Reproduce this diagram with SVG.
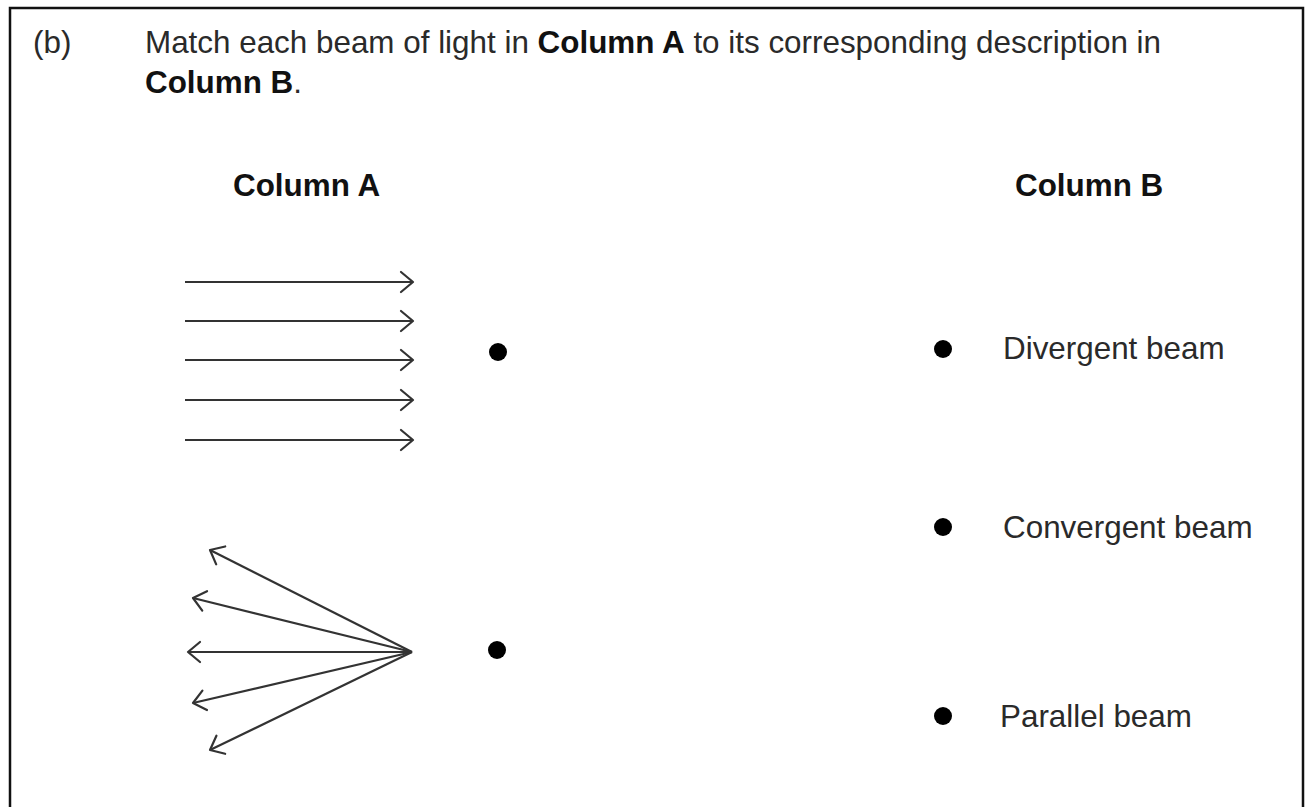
<svg xmlns="http://www.w3.org/2000/svg" width="1309" height="807" viewBox="0 0 1309 807">
  <defs>
    <marker id="chev" markerUnits="userSpaceOnUse" markerWidth="30" markerHeight="30" refX="0" refY="0" orient="auto" overflow="visible" viewBox="-15 -15 30 30">
      <path d="M-12,-10 L0,0 L-12,10" fill="none" stroke="#333" stroke-width="2.2" stroke-linecap="round" stroke-linejoin="round"/>
    </marker>
  </defs>
  <style>
    .t { font-family: "Liberation Sans", Arial, sans-serif; font-size: 31.4px; fill: #2a2a2a; }
    .b { font-weight: bold; fill: #111; }
    .ray { stroke: #333; stroke-width: 2.2; fill: none; marker-end: url(#chev); }
    .dot { fill: #000; }
  </style>
  <rect x="0" y="0" width="1309" height="807" fill="#fff"/>
  <path d="M10,830 L10,8 L1303,8 L1303,830" fill="none" stroke="#111" stroke-width="2.5"/>

  <g id="question">
    <text class="t" x="33" y="53">(b)</text>
    <text class="t" x="145" y="53">Match each beam of light in <tspan class="b">Column A</tspan> to its corresponding description in</text>
    <text class="t" x="145" y="93"><tspan class="b">Column B</tspan>.</text>
  </g>

  <g id="colA-title"><text class="t b" x="233" y="196">Column A</text></g>
  <g id="colB-title"><text class="t b" x="1015" y="196">Column B</text></g>

  <g id="connectors">
    <g id="parallel-rays">
      <line class="ray" x1="185" y1="282" x2="413" y2="282"/>
      <line class="ray" x1="185" y1="321" x2="413" y2="321"/>
      <line class="ray" x1="185" y1="360" x2="413" y2="360"/>
      <line class="ray" x1="185" y1="400" x2="413" y2="400"/>
      <line class="ray" x1="185" y1="440" x2="413" y2="440"/>
    </g>
    <g id="divergent-rays">
      <line class="ray" x1="412" y1="652" x2="210" y2="550"/>
      <line class="ray" x1="412" y1="652" x2="193" y2="598"/>
      <line class="ray" x1="412" y1="652" x2="188" y2="652"/>
      <line class="ray" x1="412" y1="652" x2="193" y2="703"/>
      <line class="ray" x1="412" y1="652" x2="210" y2="750"/>
    </g>
  </g>

  <g id="dotA1"><circle class="dot" cx="498" cy="352" r="9"/></g>
  <g id="dotA2"><circle class="dot" cx="497" cy="650" r="9"/></g>

  <g id="divergent"><circle class="dot" cx="943" cy="349" r="9"/><text class="t" x="1003" y="359">Divergent beam</text></g>
  <g id="convergent"><circle class="dot" cx="943" cy="527" r="9"/><text class="t" x="1003" y="538">Convergent beam</text></g>
  <g id="parallel"><circle class="dot" cx="943" cy="716" r="9"/><text class="t" x="1000" y="727">Parallel beam</text></g>
</svg>
